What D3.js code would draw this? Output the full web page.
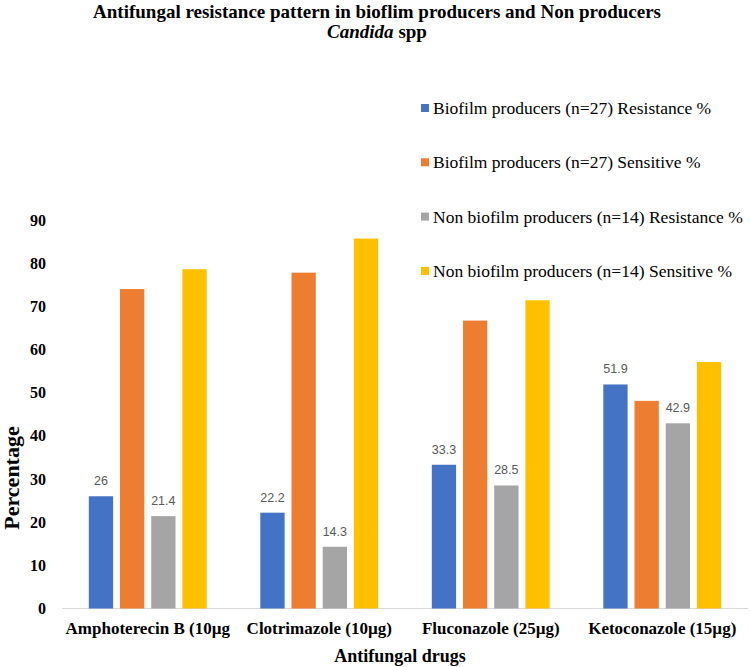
<!DOCTYPE html>
<html><head><meta charset="utf-8">
<script src="https://cdn.jsdelivr.net/npm/d3@7"></script>
<style>body{margin:0;background:#fff}</style>
</head><body>
<svg id="c" width="750" height="667"></svg>
<script>
const categories = ["Amphoterecin B (10µg", "Clotrimazole (10µg)", "Fluconazole (25µg)", "Ketoconazole (15µg)"];
const seriesNames = ["Biofilm producers (n=27) Resistance %", "Biofilm producers (n=27) Sensitive %", "Non biofilm producers (n=14) Resistance %", "Non biofilm producers (n=14) Sensitive %"];
const biofilmResistance = [26, 22.2, 33.3, 51.9];
const biofilmSensitive = [74, 77.8, 66.7, 48.1];
const nonBiofilmResistance = [21.4, 14.3, 28.5, 42.9];
const nonBiofilmSensitive = [78.6, 85.7, 71.4, 57.1];
const showLabel = [true, false, true, false];
const yTicks = [0, 10, 20, 30, 40, 50, 60, 70, 80, 90];
const colors = ["#4472C4", "#ED7D31", "#A5A5A5", "#FFC000"];

const seriesValues = [biofilmResistance, biofilmSensitive, nonBiofilmResistance, nonBiofilmSensitive];
const svg = d3.select("#c");
const serif = "Liberation Serif";

const x = d3.scaleBand().domain(categories).range([62, 748]).paddingInner(0).paddingOuter(0);
const xs = d3.scaleBand().domain(d3.range(4)).range([0, x.bandwidth()]).paddingInner(0.221).paddingOuter(0.859);
const y = d3.scaleLinear().domain([0, 90]).range([608.5, 220]);

// title
svg.append("text").attr("x", 377).attr("y", 18).attr("text-anchor", "middle")
  .attr("font-family", serif).attr("font-weight", "bold").attr("font-size", 19)
  .text("Antifungal resistance pattern in bioflim producers and Non producers");
const t2 = svg.append("text").attr("x", 377).attr("y", 38).attr("text-anchor", "middle")
  .attr("font-family", serif).attr("font-weight", "bold").attr("font-size", 19);
t2.append("tspan").attr("font-style", "italic").text("Candida");
t2.append("tspan").text(" spp");

// y axis labels
const yAxis = d3.axisLeft(y).tickValues(yTicks).tickSize(0).tickPadding(0);
const ga = svg.append("g").attr("transform", "translate(46,0)").call(yAxis);
ga.select(".domain").remove();
ga.selectAll("text").attr("font-family", serif).attr("font-weight", "bold").attr("font-size", 16).attr("fill", "#000");

// baseline
svg.append("line").attr("x1", 62).attr("x2", 748).attr("y1", y(0)).attr("y2", y(0)).attr("stroke", "#D9D9D9").attr("stroke-width", 1);

// bars
seriesValues.forEach((vals, si) => {
  svg.append("g").selectAll("rect").data(vals).join("rect")
    .attr("x", (d, i) => x(categories[i]) + xs(si))
    .attr("width", xs.bandwidth())
    .attr("y", d => y(d))
    .attr("height", d => y(0) - y(d))
    .attr("fill", colors[si]);
  if (showLabel[si]) {
    svg.append("g").selectAll("text").data(vals).join("text")
      .attr("x", (d, i) => x(categories[i]) + xs(si) + xs.bandwidth() / 2)
      .attr("y", d => y(d) - 11)
      .attr("text-anchor", "middle")
      .attr("font-family", "Liberation Sans").attr("font-size", 12.5).attr("fill", "#595959")
      .text(d => d);
  }
});

// x axis labels
const xAxis = d3.axisBottom(x).tickSize(0).tickPadding(0);
const gx = svg.append("g").attr("transform", "translate(0,622)").call(xAxis);
gx.select(".domain").remove();
gx.selectAll("text").attr("font-family", serif).attr("font-weight", "bold").attr("font-size", 17).attr("fill", "#000");

// axis titles
svg.append("text").attr("x", 400).attr("y", 662).attr("text-anchor", "middle")
  .attr("font-family", serif).attr("font-weight", "bold").attr("font-size", 18).text("Antifungal drugs");
svg.append("text").attr("transform", "translate(19,478) rotate(-90)").attr("text-anchor", "middle")
  .attr("font-family", serif).attr("font-weight", "bold").attr("font-size", 22).text("Percentage");

// legend
const lg = svg.append("g");
seriesNames.forEach((n, i) => {
  const yy = 108 + i * 54.3;
  lg.append("rect").attr("x", 421).attr("y", yy - 4).attr("width", 8).attr("height", 8).attr("fill", colors[i]);
  lg.append("text").attr("x", 433).attr("y", yy).attr("dy", "0.35em")
    .attr("font-family", serif).attr("font-size", 17.5).attr("fill", "#000").text(n);
});
</script>
</body></html>
